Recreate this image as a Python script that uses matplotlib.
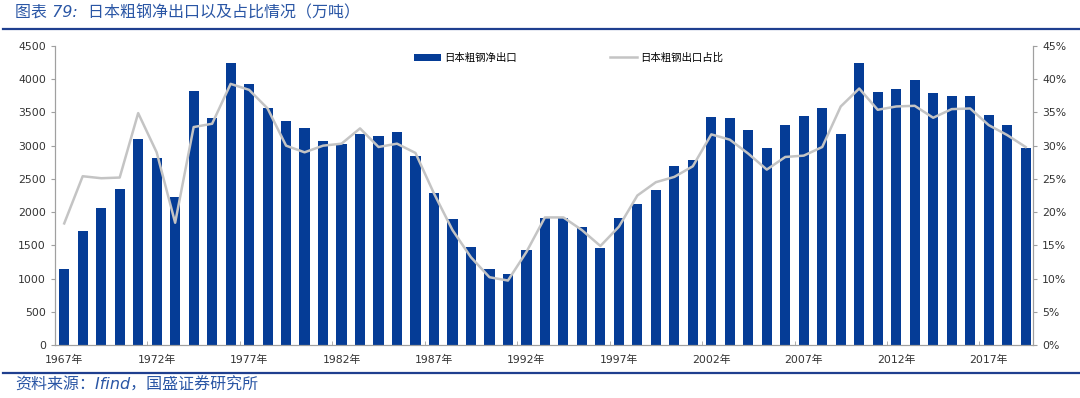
import matplotlib
matplotlib.use("Agg")
import matplotlib.pyplot as plt
from matplotlib.lines import Line2D
import numpy as np

plt.rcParams['font.family'] = ['DejaVu Sans', 'Noto Sans CJK SC']
plt.rcParams['axes.unicode_minus'] = False

# --- DATOS ---
anios = list(range(1967, 2020))
exportacion_neta = [
    1150, 1715, 2060, 2355, 3100, 2820, 2225, 3825, 3420, 4240,
    3930, 3565, 3375, 3260, 3070, 3020, 3170, 3145, 3205, 2845,
    2290, 1895, 1475, 1150, 1065, 1425, 1910, 1905, 1780, 1455,
    1915, 2120, 2330, 2700, 2785, 3425, 3422, 3240, 2970, 3305,
    3445, 3570, 3170, 4240, 3815, 3855, 3995, 3800, 3745, 3745,
    3465, 3315, 2965,
]
porcentaje = [
    18.3, 25.4, 25.1, 25.2, 34.9, 29.0, 18.4, 32.8, 33.3, 39.3,
    38.4, 35.6, 30.0, 29.0, 30.0, 30.3, 32.6, 29.8, 30.3, 28.9,
    22.8, 17.3, 13.2, 10.2, 9.7, 14.0, 19.2, 19.2, 17.3, 14.9,
    17.8, 22.5, 24.5, 25.3, 26.9, 31.7, 30.9, 28.8, 26.4, 28.3,
    28.5, 29.8, 35.9, 38.6, 35.4, 35.9, 36.0, 34.2, 35.5, 35.6,
    33.1, 31.6, 29.8,
]
etiquetas_x = [f"{a}年" if (a - 1967) % 5 == 0 else "" for a in anios]

AZUL = '#053C96'
GRIS = '#C4C4C4'
AZUL_TEXTO = '#2A56A5'
EJE = '#A0A0A0'

fig = plt.figure(figsize=(10.8, 3.98), dpi=100)
ax = fig.add_axes([0.0509, 0.1332, 0.9056, 0.7512])
ax2 = ax.twinx()

x = np.arange(len(anios))
barras = ax.bar(x, exportacion_neta, width=0.55, color=AZUL, zorder=2)
linea, = ax2.plot(x, porcentaje, color=GRIS, linewidth=1.8, zorder=3)

ax.set_xlim(-0.5, len(anios) - 0.6)
ax.set_ylim(0, 4500)
ax.set_yticks(np.arange(0, 4501, 500))
ax2.set_ylim(0, 45)
ax2.set_yticks(np.arange(0, 46, 5))
ax2.set_yticklabels([f"{v}%" for v in range(0, 46, 5)])

# etiquetas de años cada 5, marcas entre categorías
ax.set_xticks(x[::5])
ax.set_xticklabels([etiquetas_x[i] for i in x[::5]], fontsize=7.8, color='#333333')
ax.tick_params(axis='x', length=0, pad=7)
ax.set_xticks(x[::5][1:] - 0.5, minor=True)
ax.tick_params(axis='x', which='minor', length=3, color=EJE, direction='in')

ax.tick_params(axis='y', labelsize=7.8, labelcolor='#333333', length=3, color=EJE)
ax2.tick_params(axis='y', labelsize=7.8, labelcolor='#333333', length=3, color=EJE)

for a in (ax, ax2):
    a.spines['top'].set_visible(False)
    for s in ('left', 'right', 'bottom'):
        a.spines[s].set_color(EJE)
        a.spines[s].set_linewidth(0.8)

# leyenda
manejadores = [barras, Line2D([0], [0], color=GRIS, linewidth=1.8)]
ax.legend(manejadores, ['日本粗钢净出口', '日本粗钢出口占比'], loc='center',
          bbox_to_anchor=(0.525, 0.96), ncol=2, frameon=False, fontsize=7.5,
          columnspacing=9, handlelength=2.6, handletextpad=0.3)

# título, fuente y líneas de marco
fig.text(0.014, 0.968, '图表 79:  日本粗钢净出口以及占比情况（万吨）', fontsize=11.5,
         color=AZUL_TEXTO, style='italic', va='center', ha='left')
fig.text(0.014, 0.032, '资料来源：Ifind，国盛证券研究所', fontsize=11.5,
         color=AZUL_TEXTO, style='italic', va='center', ha='left')
fig.add_artist(Line2D([0.003, 1.0], [1 - 29 / 398] * 2, color='#1F3F8F', linewidth=1.6))
fig.add_artist(Line2D([0.003, 1.0], [1 - 373 / 398] * 2, color='#1F3F8F', linewidth=1.6))

fig.savefig('out.png', dpi=100)
